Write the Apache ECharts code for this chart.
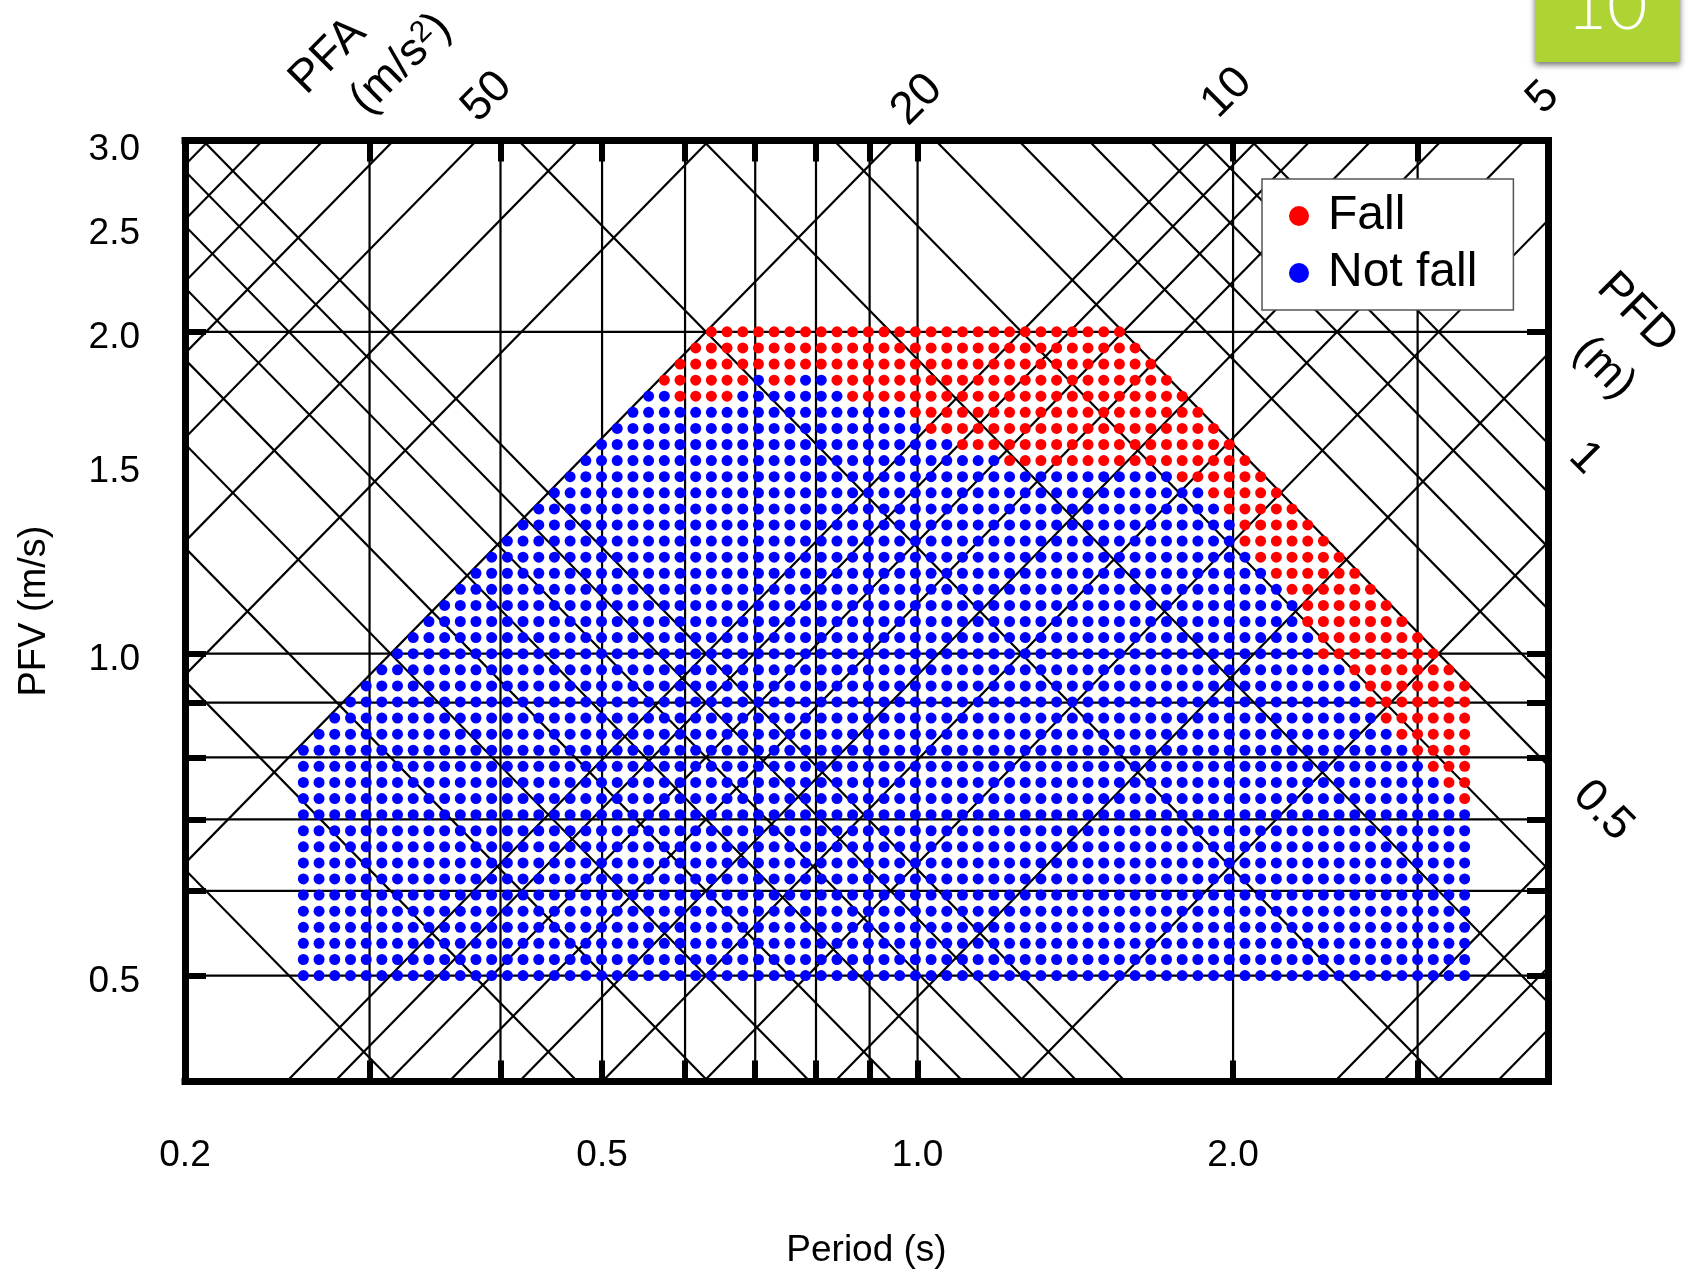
<!DOCTYPE html>
<html>
<head>
<meta charset="utf-8">
<title>PFV-Period tripartite chart</title>
<script src="https://cdn.jsdelivr.net/npm/echarts@6/dist/echarts.min.js"></script>
<style>html,body{margin:0;padding:0;background:#fff}#c{width:1690px;height:1271px}</style>
</head>
<body>
<div id="c"></div>
<script>
// Grid columns: period (s)
const periods = [0.2594,0.2685,0.2779,0.2877,0.2978,0.3082,0.3190,0.3302,0.3418,0.3538,
0.3662,0.3790,0.3923,0.4061,0.4203,0.4351,0.4503,0.4661,0.4825,0.4994,
0.5169,0.5351,0.5538,0.5733,0.5934,0.6142,0.6357,0.6580,0.6811,0.7050,
0.7297,0.7553,0.7818,0.8093,0.8377,0.8670,0.8975,0.9289,0.9615,0.9952,
1.0302,1.0663,1.1037,1.1424,1.1825,1.2240,1.2669,1.3113,1.3573,1.4050,
1.4542,1.5053,1.5581,1.6127,1.6693,1.7278,1.7884,1.8512,1.9161,1.9833,
2.0529,2.1249,2.1995,2.2766,2.3565,2.4391,2.5247,2.6133,2.7049,2.7998,
2.8980,2.9997,3.1049,3.2138,3.3265];
// Grid rows: PFV (m/s)
const pfvLevels = [0.5000,0.5176,0.5359,0.5548,0.5743,0.5946,0.6156,0.6373,0.6598,0.6830,
0.7071,0.7320,0.7579,0.7846,0.8123,0.8409,0.8706,0.9013,0.9330,0.9659,
1.0000,1.0353,1.0718,1.1096,1.1487,1.1892,1.2311,1.2746,1.3195,1.3660,
1.4142,1.4641,1.5157,1.5692,1.6245,1.6818,1.7411,1.8025,1.8661,1.9319,2.0000];
// First and last occupied column in each row
const rowFirstCol = [0,0,0,0,0,0,0,0,0,0,0,0,0,0,0,1,2,3,4,5,6,7,8,9,10,11,12,13,14,15,16,17,18,19,20,21,22,23,24,25,26];
const rowLastCol = [74,74,74,74,74,74,74,74,74,74,74,74,74,74,74,74,74,74,74,73,72,71,70,69,68,67,66,65,64,63,62,61,60,59,58,57,56,55,54,53,52];
// Column spans that fell, row by row
const fallSpans = [[],[],[],[],[],[],[],[],[],[],[],
[[74,74]],[[73,74]],[[72,74]],[[71,74]],[[70,74]],[[69,74]],[[68,74]],[[68,74]],[[67,73]],
[[65,72]],[[65,71]],[[64,70]],[[64,69]],[[63,68]],[[62,67]],[[61,66]],[[60,65]],[[60,64]],[[59,63]],
[[58,62]],[[56,61]],[[45,60]],[[42,59]],[[40,58]],[[39,57]],[[24,27],[35,56]],[[23,28],[30,31],[34,55]],
[[24,54]],[[25,53]],[[26,52]]];

const periodGrid = [0.3,0.4,0.5,0.6,0.7,0.8,0.9,1,2,3];
const pfvGrid = [0.5,0.6,0.7,0.8,0.9,1,2];
const periodLabels = [0.2,0.5,1,2];
const pfvLabels = [0.5,1,1.5,2,2.5,3];
const pfaLevels = [0.7,0.8,0.9,1,2,3,4,5,6,7,8,9,10,20,30,40,50,60,70,80,90];
const pfdLevels = [0.02,0.03,0.04,0.05,0.06,0.07,0.08,0.09,0.1,0.2,0.3,0.4,0.5,0.6,0.7,0.8,0.9,1];

const T_MIN = 0.2, T_MAX = 3.995, V_MIN = 0.398, V_MAX = 3.02;
const TWO_PI = 2 * Math.PI;

const fallPts = [], notFallPts = [];
pfvLevels.forEach((v, j) => {
  for (let i = rowFirstCol[j]; i <= rowLastCol[j]; i++) {
    const fell = fallSpans[j].some(s => i >= s[0] && i <= s[1]);
    (fell ? fallPts : notFallPts).push([periods[i], v]);
  }
});

const lineStyle = { color: '#000', width: 2.2 };
function guide(name, data) {
  return { name, type: 'line', data, symbol: 'none', silent: true, clip: true, z: 2, lineStyle, animation: false };
}
const guides = [];
periodGrid.forEach(t => guides.push(guide('T' + t, [[t, V_MIN], [t, V_MAX]])));
pfvGrid.forEach(v => guides.push(guide('V' + v, [[T_MIN, v], [T_MAX, v]])));
// Tripartite guide lines: constant acceleration and constant displacement
pfaLevels.forEach(a => guides.push(guide('A' + a, [[0.1, a * 0.1 / TWO_PI], [10, a * 10 / TWO_PI]])));
pfdLevels.forEach(d => guides.push(guide('D' + d, [[0.1, TWO_PI * d / 0.1], [10, TWO_PI * d / 10]])));

const FONT = '"Liberation Sans", Arial, sans-serif';
function axisBase(extra) {
  return Object.assign({
    type: 'log', logBase: 10, z: 5,
    splitLine: { show: false }, minorTick: { show: false }, minorSplitLine: { show: false },
    axisLine: { show: true, onZero: false, lineStyle: { color: '#000', width: 7, cap: 'square' } }
  }, extra);
}
const fmt = v => Number(v).toFixed(1);
const labelStyle = { color: '#000', fontSize: 37, fontFamily: FONT };
const tickStyle = { color: '#000', width: 6 };

function rotText(text, x, y, deg, size, rich) {
  return {
    type: 'text', x, y, rotation: deg * Math.PI / 180, z: 10,
    style: { text, fontSize: size, fontFamily: FONT, fill: '#000', align: 'center', verticalAlign: 'middle', rich }
  };
}

const chart = echarts.init(document.getElementById('c'), null, { renderer: 'canvas' });
chart.setOption({
  animation: false,
  backgroundColor: '#fff',
  grid: { left: 185, top: 140.5, width: 1363, height: 941, containLabel: false, outerBoundsMode: 'none' },
  legend: {
    data: ['Fall', 'Not fall'], orient: 'vertical', left: 1262, top: 179,
    padding: [13, 36, 13, 27], itemGap: 9, itemWidth: 20, itemHeight: 22, itemStyle: { borderWidth: 0, opacity: 1 },
    backgroundColor: '#fff', borderColor: '#555', borderWidth: 1.5, selectedMode: false, icon: 'circle',
    textStyle: { color: '#000', fontSize: 48, fontFamily: FONT, padding: [0, 0, 0, 14] }, z: 6
  },
  xAxis: [
    axisBase({ position: 'bottom', min: T_MIN, max: T_MAX,
      name: 'Period (s)', nameLocation: 'middle', nameGap: 151,
      nameTextStyle: { color: '#000', fontSize: 37, fontFamily: FONT },
      axisTick: { show: true, inside: true, length: 21, customValues: periodGrid, lineStyle: tickStyle },
      axisLabel: Object.assign({ show: true, margin: 56, customValues: periodLabels, formatter: fmt, hideOverlap: false }, labelStyle) }),
    axisBase({ position: 'top', min: T_MIN, max: T_MAX,
      axisTick: { show: true, inside: true, length: 21, customValues: periodGrid, lineStyle: tickStyle },
      axisLabel: { show: false } })
  ],
  yAxis: [
    axisBase({ position: 'left', min: V_MIN, max: V_MAX,
      name: 'PFV (m/s)', nameLocation: 'middle', nameGap: 131,
      nameTextStyle: { color: '#000', fontSize: 38, fontFamily: FONT },
      axisTick: { show: true, inside: true, length: 21, customValues: pfvGrid, lineStyle: tickStyle },
      axisLabel: Object.assign({ show: true, margin: 45, customValues: pfvLabels, formatter: fmt, hideOverlap: false, verticalAlign: 'top', lineHeight: 12 }, labelStyle) }),
    axisBase({ position: 'right', min: V_MIN, max: V_MAX,
      axisTick: { show: true, inside: true, length: 21, customValues: pfvGrid, lineStyle: tickStyle },
      axisLabel: { show: false } })
  ],
  series: guides.concat([
    { name: 'Fall', type: 'scatter', data: fallPts, symbol: 'circle', symbolSize: 11, z: 3, silent: true, itemStyle: { color: '#ff0000', opacity: 1 } },
    { name: 'Not fall', type: 'scatter', data: notFallPts, symbol: 'circle', symbolSize: 11, z: 3, silent: true, itemStyle: { color: '#0000ff', opacity: 1 } }
  ]),
  graphic: [
    { type: 'rect', shape: { x: 1535, y: -10, width: 145, height: 72 }, z: 9,
      style: { fill: '#add433', shadowBlur: 6, shadowOffsetY: 3, shadowColor: 'rgba(0,0,0,0.55)' } },
    { type: 'text', x: 1607, y: 6, z: 10, style: { text: '10', fontSize: 70, fontFamily: 'Lato, "Open Sans", sans-serif', fontWeight: 300, fill: '#fff', align: 'center', verticalAlign: 'middle' } },
    rotText('PFA', 328, 56, 45, 46),
    rotText('{a|(m/s}{b|2}{a|)}', 401, 64, 45, 47, {
      a: { fontSize: 46, fontFamily: FONT, fill: '#000' },
      b: { fontSize: 30, fontFamily: FONT, fill: '#000', verticalAlign: 'top', padding: [0, 0, 14, 0] }
    }),
    rotText('50', 487, 97, 45, 45),
    rotText('20', 917, 100, 45, 46),
    rotText('10', 1227, 93, 45, 45),
    rotText('5', 1543, 98, 45, 45),
    rotText('PFD', 1637, 313, -45, 46),
    rotText('(m)', 1604, 368, -45, 45),
    rotText('1', 1585, 458, -45, 45),
    rotText('0.5', 1603, 811, -45, 46)
  ]
});
</script>
</body>
</html>
